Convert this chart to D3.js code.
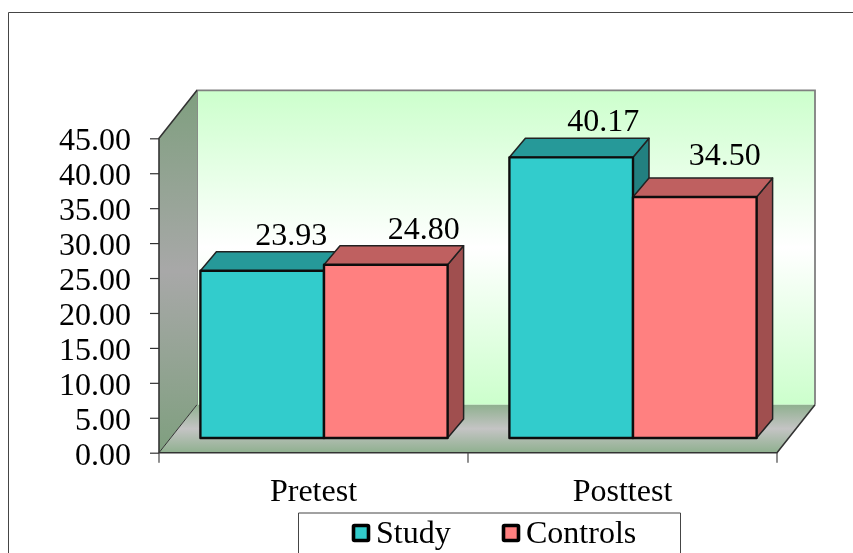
<!DOCTYPE html>
<html><head><meta charset="utf-8">
<script src="https://cdn.jsdelivr.net/npm/d3@7/dist/d3.min.js"></script>
<style>html,body{margin:0;padding:0;background:#fff}svg{display:block}</style>
</head><body><svg id="c" width="853" height="553"></svg>
<script>
const categories = ["Pretest", "Posttest"];
const seriesNames = ["Study", "Controls"];
const study = [23.93, 40.17];
const controls = [24.80, 34.50];
const yTicks = [0, 5, 10, 15, 20, 25, 30, 35, 40, 45];
const seriesValues = [study, controls];
const faceColors = ["#33cccc", "#ff8080"];
const topColors = ["#269999", "#bf6060"];
const sideColors = ["#238080", "#a05050"];

const font = "'Liberation Serif', serif";
const fs = 32;
const svg = d3.select("#c");
const defs = svg.append("defs");
function mirrorGrad(id, a, b) {
  const g = defs.append("linearGradient").attr("id", id).attr("x1", 0).attr("x2", 0).attr("y1", 0).attr("y2", 1);
  g.append("stop").attr("offset", 0).attr("stop-color", a);
  g.append("stop").attr("offset", .5).attr("stop-color", b);
  g.append("stop").attr("offset", 1).attr("stop-color", a);
}
mirrorGrad("wall", "#ccffcc", "#ffffff");
mirrorGrad("side", "#7f9f7f", "#a8a8a8");
mirrorGrad("floor", "#8fb08f", "#c4c4c4");
defs.append("filter").attr("id", "soft").append("feGaussianBlur").attr("stdDeviation", .45);

const y = d3.scaleLinear().domain([0, 45]).range([452.7, 138.3]);
const x0 = d3.scaleBand().domain(categories).range([159, 777]);
const x1 = d3.scaleBand().domain(seriesNames).range([0, x0.step()]).paddingInner(0).paddingOuter(.25);
const depth = { dx: 38, dy: 48 }, barDepth = { dx: 16, dy: 19 };
const inset = { dx: 10.5, dy: 14.7 };
const line = d3.line();
const root = svg.append("g").attr("filter", "url(#soft)");
const poly = (pts, fill, stroke, w) => root.append("path").attr("d", line(pts) + "Z")
  .attr("fill", fill).attr("stroke", stroke || "none").attr("stroke-width", w || 0).attr("stroke-linejoin", "round");

// outer frame
root.append("path").attr("d", "M8.5,553V12.5H853").attr("fill", "none").attr("stroke", "#444").attr("stroke-width", 1);

const L = x0.range()[0], R = x0.range()[1], B = y(0), T = y(45);
// back wall
poly([[L + depth.dx, T - depth.dy], [R + depth.dx, T - depth.dy], [R + depth.dx, B - depth.dy], [L + depth.dx, B - depth.dy]], "url(#wall)");
root.append("path").attr("d", line([[L + depth.dx, B - depth.dy], [L + depth.dx, T - depth.dy], [R + depth.dx, T - depth.dy], [R + depth.dx, B - depth.dy]]))
  .attr("fill", "none").attr("stroke", "#808080").attr("stroke-width", 1.8);
// side wall
poly([[L, B], [L, T], [L + depth.dx, T - depth.dy], [L + depth.dx, B - depth.dy]], "url(#side)");
// floor
poly([[L, B], [R, B], [R + depth.dx, B - depth.dy], [L + depth.dx, B - depth.dy]], "url(#floor)");
// frame edges
root.append("path").attr("d", line([[L + depth.dx, T - depth.dy], [L, T], [L, B], [R, B], [R + depth.dx, B - depth.dy]]))
  .attr("fill", "none").attr("stroke", "#333").attr("stroke-width", 1.6);
root.append("path").attr("d", line([[L, B], [L + depth.dx, B - depth.dy]])).attr("fill", "none").attr("stroke", "#333").attr("stroke-width", 1);

// axes
const yAxis = root.append("g").attr("transform", `translate(${L},0)`)
  .call(d3.axisLeft(y).tickValues(yTicks).tickSize(9).tickPadding(19).tickFormat(d3.format(".2f")));
yAxis.select(".domain").remove();
yAxis.selectAll("line").attr("stroke", "#333").attr("stroke-width", 1.2);
yAxis.selectAll("text").attr("font-family", font).attr("font-size", fs).attr("fill", "#000").attr("dy", "0.36em");
const xAxis = root.append("g").attr("transform", `translate(0,${B})`)
  .call(d3.axisBottom(x0).tickSize(0).tickPadding(26));
xAxis.select(".domain").remove();
xAxis.selectAll("text").attr("font-family", font).attr("font-size", fs).attr("fill", "#000").attr("dy", "0.71em");
root.append("g").selectAll("line").data([0, 1, 2]).join("line")
  .attr("x1", d => L + d * x0.step()).attr("x2", d => L + d * x0.step())
  .attr("y1", B).attr("y2", B + 10).attr("stroke", "#444").attr("stroke-width", 1.2);

// bars, back-to-front
const barH = v => y(0) - y(v);
const labelOffsets = [[[29, -26], [38, -26]], [[32, -26], [30, -32]]];
categories.forEach((c, ci) => {
  seriesNames.forEach((s, si) => {
    const v = seriesValues[si][ci];
    const X = x0(c) + x1(s) + inset.dx, W = x1.bandwidth(), Yb = B - inset.dy, Yt = Yb - barH(v);
    const d = barDepth;
    poly([[X + W, Yt], [X + W + d.dx, Yt - d.dy], [X + W + d.dx, Yb - d.dy], [X + W, Yb]], sideColors[si], "#222", 1.5);
    poly([[X, Yt], [X + d.dx, Yt - d.dy], [X + W + d.dx, Yt - d.dy], [X + W, Yt]], topColors[si], "#222", 1.5);
    poly([[X, Yt], [X + W, Yt], [X + W, Yb], [X, Yb]], faceColors[si], "#111", 2.4);
  });
});
categories.forEach((c, ci) => {
  seriesNames.forEach((s, si) => {
    const v = seriesValues[si][ci];
    const X = x0(c) + x1(s) + inset.dx, W = x1.bandwidth(), Yt = B - inset.dy - barH(v);
    const o = labelOffsets[ci][si];
    root.append("text").attr("x", X + W / 2 + o[0]).attr("y", Yt + o[1]).attr("text-anchor", "middle")
      .attr("font-family", font).attr("font-size", fs).attr("fill", "#000").text(d3.format(".2f")(v));
  });
});

// legend
root.append("path").attr("d", "M298.5,553V513H680.5V553").attr("fill", "#fff").attr("stroke", "#444").attr("stroke-width", 1);
const legendX = [353.5, 503.5];
seriesNames.forEach((s, i) => {
  root.append("rect").attr("x", legendX[i]).attr("y", 525.5).attr("width", 15).attr("height", 15)
    .attr("fill", faceColors[i]).attr("stroke", "#000").attr("stroke-width", 3.6).attr("rx", 1);
  root.append("text").attr("x", legendX[i] + 22.5).attr("y", 543).attr("font-family", font).attr("font-size", fs)
    .attr("fill", "#000").text(s);
});
</script></body></html>
